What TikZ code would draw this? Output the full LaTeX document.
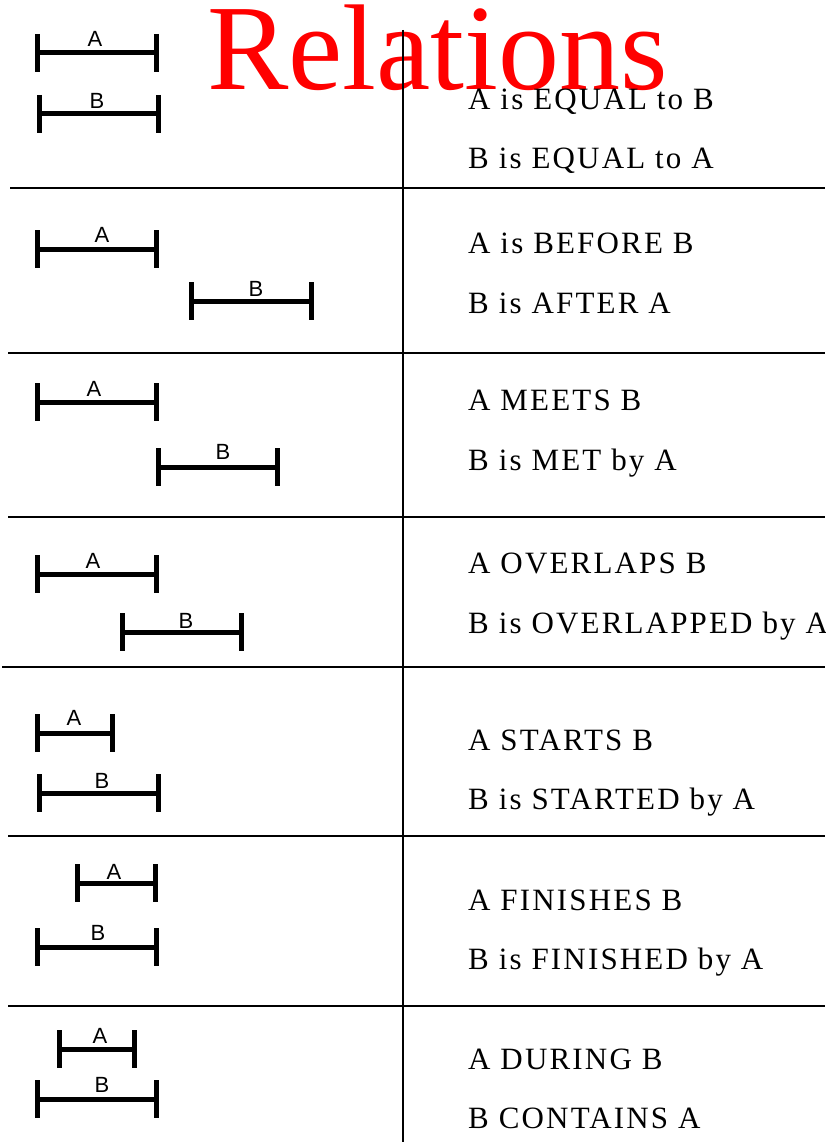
\documentclass[tikz,border=0pt]{standalone}
\usepackage{fontspec}
\newfontfamily\relfont[LetterSpace=7]{Liberation Serif}
\newfontfamily\titlefont{Liberation Serif}
\newfontfamily\labelfont{Liberation Sans}

\begin{document}
\begin{tikzpicture}
[x=1pt,y=-1pt,
  barDecorate/.style={-,line width=5pt},
  ruleDecorate/.style={-,line width=1.5pt},
  labelDecorate/.style={anchor=base,inner sep=0pt,font=\labelfont\fontsize{22}{26}\selectfont},
  textDecorate/.style={anchor=base west,inner sep=0pt,font=\relfont\fontsize{31}{36}\selectfont},
  titleDecorate/.style={anchor=base west,inner sep=0pt,text=red,font=\titlefont\fontsize{122}{132}\selectfont}]
\useasboundingbox (0,0) rectangle (825,1142);

%% title
\node (title) at (207,90) [titleDecorate] {Relations};

%% table rules
\draw[ruleDecorate] (403,30) -- (403,1142);
\foreach \y/\x in {188/10, 353/8, 517/8, 667/2, 836/8, 1006/8}
{
  \draw[ruleDecorate] (\x,\y) -- (825,\y);
}

%% intervals
\foreach \name/\xa/\xb/\y/\lx/\ly/\lab in {
  a1/37/156/53/95/47/A,     b1/39/158/114/97/109/B,
  a2/37/156/249/102/242/A,  b2/191/311/301/256/296/B,
  a3/37/156/402/94/396/A,   b3/158/277/467/223/459/B,
  a4/37/156/574/93/568/A,   b4/122/241/632/186/628/B,
  a5/37/112/733/74/725/A,   b5/39/158/793/102/788/B,
  a6/77/155/883/114/879/A,  b6/37/156/947/98/940/B,
  a7/59/134/1049/100/1043/A, b7/37/156/1099/102/1092/B}
{
  \coordinate (\name l) at (\xa,\y);
  \coordinate (\name r) at (\xb,\y);
  \draw[barDecorate] (\name l) -- (\name r);
  \draw[barDecorate] ([yshift=19pt]\name l) -- ([yshift=-19pt]\name l);
  \draw[barDecorate] ([yshift=19pt]\name r) -- ([yshift=-19pt]\name r);
  \node (\name label) at (\lx,\ly) [labelDecorate] {\lab};
}

%% relation texts
\foreach \name/\y/\txt in {
  t1a/110/A is EQUAL to B,     t1b/168/B is EQUAL to A,
  t2a/253/A is BEFORE B,       t2b/313/B is AFTER A,
  t3a/410/A MEETS B,           t3b/470/B is MET by A,
  t4a/573/A OVERLAPS B,        t4b/633/B is OVERLAPPED by A,
  t5a/750/A STARTS B,          t5b/809/B is STARTED by A,
  t6a/910/A FINISHES B,        t6b/969/B is FINISHED by A,
  t7a/1069/A DURING B,         t7b/1128/B CONTAINS A}
{
  \node (\name) at (468,\y) [textDecorate] {\txt};
}
\end{tikzpicture}
\end{document}
